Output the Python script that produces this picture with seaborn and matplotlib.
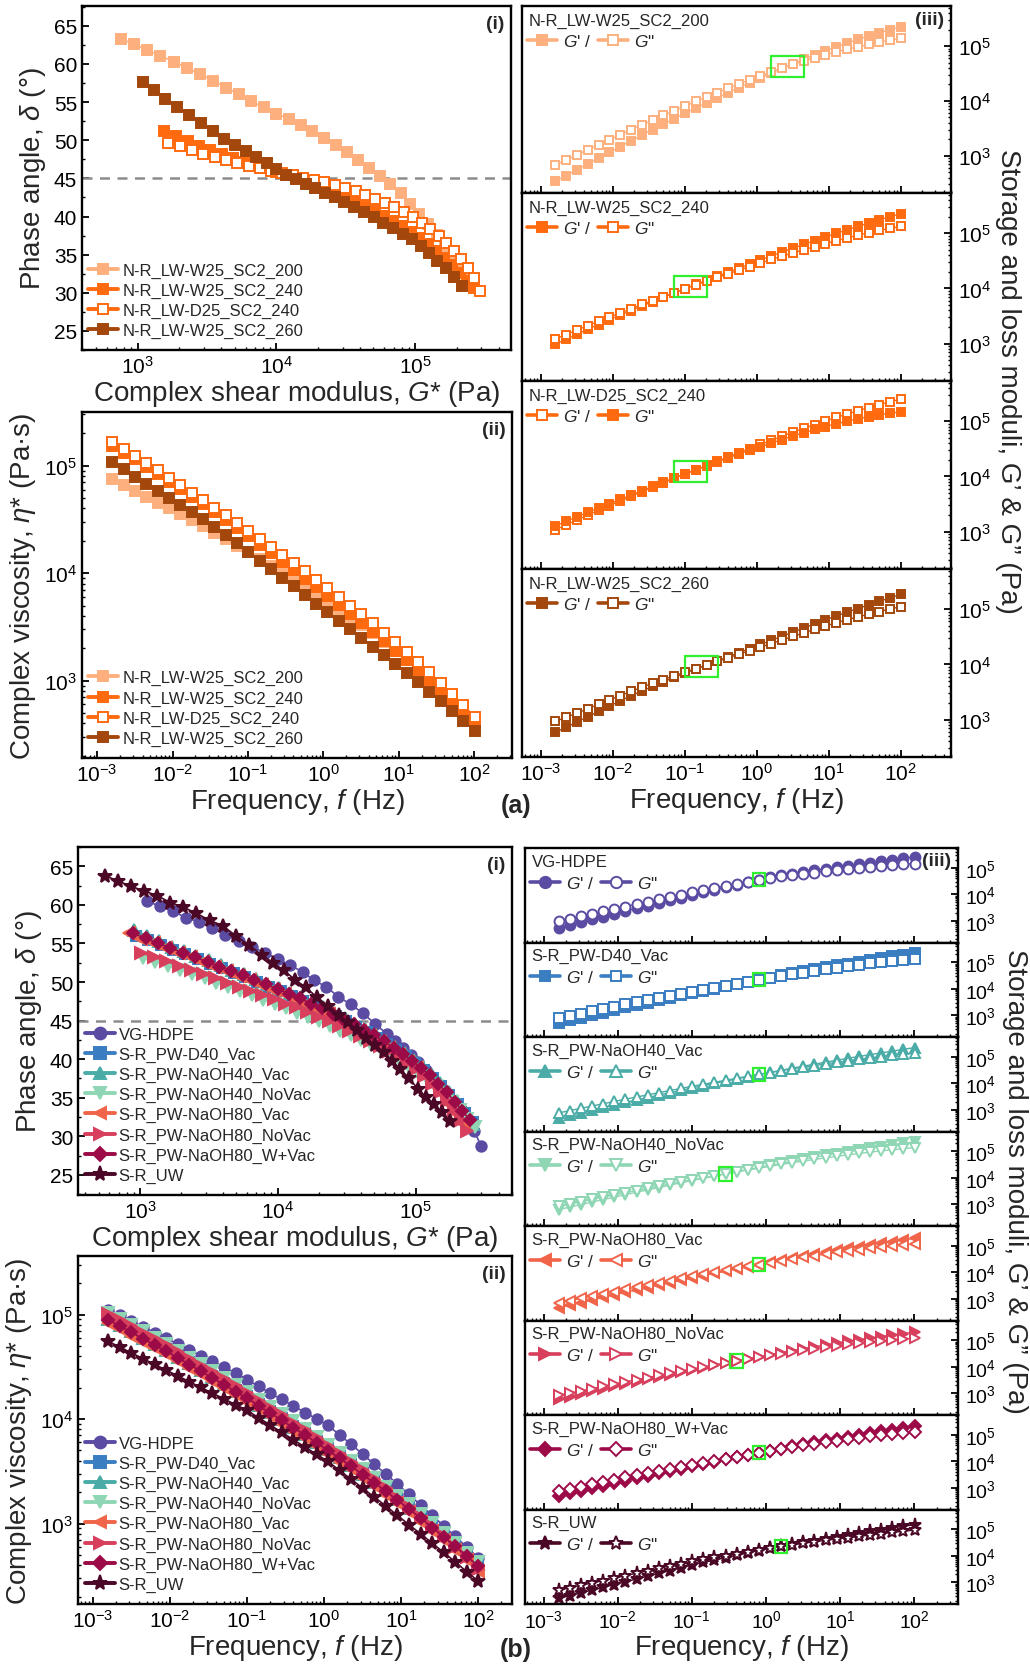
import matplotlib
matplotlib.use("Agg")
import matplotlib.pyplot as plt
import matplotlib.ticker as mticker
from matplotlib.patches import Rectangle
from matplotlib.lines import Line2D
import seaborn as sns
import numpy as np

sns.set_theme(style="ticks")
plt.rcParams["font.family"] = ["Liberation Sans", "DejaVu Sans"]
plt.rcParams["mathtext.fontset"] = "custom"
plt.rcParams["mathtext.rm"] = "Liberation Sans"
plt.rcParams["mathtext.it"] = "Liberation Sans:italic"
plt.rcParams["mathtext.bf"] = "Liberation Sans:bold"

# frequency sweep (Hz)
freq = [0.0016, 0.00226, 0.00319, 0.00451, 0.00637, 0.009, 0.0127, 0.018, 0.0254, 0.0358,
        0.0506, 0.0715, 0.101, 0.143, 0.202, 0.285, 0.403, 0.569, 0.803, 1.13,
        1.6, 2.26, 3.19, 4.51, 6.37, 9.0, 12.7, 18.0, 25.4, 35.8,
        50.6, 71.5, 101.0]

# ---------------- panel (a): log10 G* (Pa) and phase angle (deg) ----------------
logG_w200 = [2.88, 2.975, 3.07, 3.165, 3.26, 3.355, 3.45, 3.545, 3.64, 3.73,
             3.82, 3.91, 4.0, 4.09, 4.175, 4.26, 4.345, 4.43, 4.51, 4.59,
             4.67, 4.745, 4.82, 4.895, 4.965, 5.03, 5.095, 5.155, 5.215, 5.27,
             5.325, 5.375, 5.425]
delta_w200 = [63.3, 62.6, 61.8, 61.1, 60.3, 59.5, 58.7, 57.8, 56.9, 56.0,
              55.1, 54.3, 53.5, 52.8, 52.0, 51.2, 50.3, 49.4, 48.4, 47.4,
              46.4, 45.3, 44.2, 43.1, 41.6, 40.3, 39.0, 37.6, 36.2, 35.0,
              33.9, 32.7, 31.5]
logG_w240 = [3.19, 3.275, 3.36, 3.445, 3.525, 3.605, 3.685, 3.765, 3.845, 3.92,
             3.995, 4.07, 4.145, 4.22, 4.29, 4.36, 4.43, 4.50, 4.57, 4.64,
             4.71, 4.775, 4.84, 4.905, 4.97, 5.03, 5.09, 5.15, 5.21, 5.265,
             5.32, 5.37, 5.42]
delta_w240 = [51.2, 50.6, 49.9, 49.3, 48.7, 48.2, 47.7, 47.2, 46.8, 46.3,
              45.9, 45.4, 45.0, 44.5, 44.0, 43.5, 43.0, 42.5, 41.9, 41.3,
              40.7, 40.1, 39.4, 38.7, 38.0, 37.2, 36.4, 35.5, 34.6, 33.6,
              32.6, 31.6, 30.6]
logG_d240 = [3.22, 3.305, 3.39, 3.475, 3.56, 3.64, 3.72, 3.80, 3.88, 3.96,
             4.04, 4.12, 4.195, 4.27, 4.345, 4.42, 4.495, 4.57, 4.64, 4.71,
             4.78, 4.85, 4.92, 4.985, 5.05, 5.11, 5.17, 5.225, 5.28, 5.33,
             5.38, 5.425, 5.465]
delta_d240 = [49.7, 49.2, 48.7, 48.2, 47.8, 47.4, 47.0, 46.6, 46.3, 46.0,
              45.7, 45.4, 45.1, 44.8, 44.5, 44.1, 43.7, 43.3, 42.8, 42.3,
              41.8, 41.2, 40.6, 39.9, 39.2, 38.4, 37.5, 36.5, 35.5, 34.4,
              33.2, 31.9, 30.3]
logG_w260 = [3.04, 3.12, 3.2, 3.285, 3.37, 3.455, 3.54, 3.625, 3.705, 3.78,
             3.855, 3.93, 4.0, 4.07, 4.14, 4.21, 4.28, 4.35, 4.42, 4.49,
             4.56, 4.63, 4.70, 4.77, 4.84, 4.91, 4.975, 5.04, 5.1, 5.16,
             5.22, 5.28, 5.335]
delta_w260 = [57.7, 56.6, 55.4, 54.3, 53.3, 52.2, 51.2, 50.2, 49.4, 48.6,
              47.8, 47.0, 46.2, 45.5, 44.9, 44.3, 43.7, 43.1, 42.5, 41.9,
              41.2, 40.6, 39.9, 39.2, 38.5, 37.7, 37.0, 36.1, 35.2, 34.2,
              33.2, 32.1, 30.9]

a_names = ["N-R_LW-W25_SC2_200", "N-R_LW-W25_SC2_240", "N-R_LW-D25_SC2_240", "N-R_LW-W25_SC2_260"]
a_colors = ["#FDB07E", "#FF6A0E", "#FF6A0E", "#A3470D"]
a_filled = [True, True, False, True]
a_logG = [logG_w200, logG_w240, logG_d240, logG_w260]
a_delta = [delta_w200, delta_w240, delta_d240, delta_w260]

# ---------------- panel (b) ----------------
logG_vg = [3.05, 3.145, 3.24, 3.335, 3.43, 3.525, 3.62, 3.715, 3.81, 3.905,
           4.0, 4.09, 4.18, 4.265, 4.35, 4.44, 4.53, 4.615, 4.705, 4.79,
           4.85, 4.91, 4.965, 5.02, 5.075, 5.13, 5.18, 5.23, 5.28, 5.33,
           5.38, 5.425, 5.475]
delta_vg = [60.5, 59.8, 59.2, 58.3, 57.8, 57.0, 56.1, 55.3, 54.6, 53.8,
            53.0, 52.2, 51.3, 50.2, 49.4, 48.1, 47.1, 46.0, 44.6, 43.3,
            42.4, 41.5, 40.6, 39.6, 38.6, 37.4, 36.5, 35.4, 34.5, 33.6,
            32.2, 30.7, 28.8]
logG_d40v = [2.97, 3.06, 3.15, 3.24, 3.33, 3.42, 3.51, 3.595, 3.68, 3.765,
             3.85, 3.935, 4.02, 4.1, 4.18, 4.26, 4.34, 4.42, 4.495, 4.57,
             4.645, 4.72, 4.79, 4.86, 4.93, 4.995, 5.06, 5.125, 5.185, 5.245,
             5.305, 5.36, 5.415]
delta_d40v = [56.0, 55.4, 54.8, 54.2, 53.6, 53.0, 52.4, 51.8, 51.2, 50.6,
              50.0, 49.4, 48.8, 48.2, 47.6, 46.9, 46.3, 45.6, 44.9, 44.2,
              43.5, 42.8, 42.0, 41.2, 40.4, 39.5, 38.6, 37.6, 36.5, 35.4,
              34.2, 33.0, 31.8]
logG_n40v = [2.96, 3.05, 3.14, 3.23, 3.32, 3.41, 3.5, 3.585, 3.67, 3.755,
             3.84, 3.925, 4.01, 4.09, 4.17, 4.25, 4.33, 4.41, 4.485, 4.56,
             4.635, 4.71, 4.78, 4.85, 4.92, 4.99, 5.055, 5.12, 5.18, 5.24,
             5.3, 5.36, 5.42]
delta_n40v = [56.8, 56.0, 55.3, 54.6, 54.0, 53.4, 52.8, 52.2, 51.6, 51.0,
              50.4, 49.8, 49.2, 48.6, 48.0, 47.3, 46.7, 46.0, 45.3, 44.6,
              43.9, 43.2, 42.4, 41.6, 40.8, 39.9, 39.0, 38.0, 36.9, 35.8,
              34.6, 33.2, 31.6]
logG_n40nv = [3.02, 3.11, 3.2, 3.29, 3.38, 3.47, 3.555, 3.64, 3.725, 3.81,
              3.895, 3.98, 4.06, 4.14, 4.22, 4.3, 4.38, 4.455, 4.53, 4.605,
              4.68, 4.75, 4.82, 4.89, 4.955, 5.02, 5.085, 5.145, 5.205, 5.265,
              5.32, 5.375, 5.43]
delta_n40nv = [53.1, 52.6, 52.1, 51.6, 51.0, 50.5, 49.9, 49.4, 48.8, 48.3,
               47.7, 47.2, 46.6, 46.0, 45.5, 44.9, 44.3, 43.7, 43.1, 42.5,
               41.9, 41.2, 40.5, 39.8, 39.0, 38.2, 37.4, 36.5, 35.5, 34.5,
               33.4, 32.3, 31.2]
logG_n80v = [2.92, 3.01, 3.1, 3.19, 3.28, 3.37, 3.46, 3.545, 3.63, 3.715,
             3.8, 3.885, 3.97, 4.05, 4.13, 4.21, 4.29, 4.37, 4.445, 4.52,
             4.595, 4.67, 4.74, 4.81, 4.88, 4.945, 5.01, 5.07, 5.13, 5.19,
             5.245, 5.3, 5.35]
delta_n80v = [56.3, 55.6, 55.0, 54.4, 53.8, 53.2, 52.6, 52.0, 51.4, 50.8,
              50.2, 49.6, 49.0, 48.4, 47.8, 47.2, 46.5, 45.8, 45.1, 44.4,
              43.7, 43.0, 42.2, 41.4, 40.6, 39.7, 38.8, 37.8, 36.7, 35.5,
              34.2, 32.9, 31.6]
logG_n80nv = [3.01, 3.1, 3.19, 3.28, 3.37, 3.46, 3.545, 3.63, 3.715, 3.8,
              3.885, 3.97, 4.05, 4.13, 4.21, 4.29, 4.37, 4.445, 4.52, 4.595,
              4.67, 4.74, 4.81, 4.875, 4.94, 5.0, 5.06, 5.12, 5.175, 5.23,
              5.28, 5.33, 5.37]
delta_n80nv = [53.8, 53.2, 52.7, 52.1, 51.6, 51.0, 50.5, 49.9, 49.4, 48.8,
               48.3, 47.8, 47.2, 46.7, 46.1, 45.5, 44.9, 44.3, 43.7, 43.0,
               42.4, 41.7, 41.0, 40.3, 39.5, 38.7, 37.8, 36.8, 35.7, 34.6,
               33.4, 32.1, 30.7]
logG_n80wv = [2.95, 3.04, 3.13, 3.22, 3.31, 3.4, 3.49, 3.575, 3.66, 3.745,
              3.83, 3.915, 4.0, 4.08, 4.16, 4.24, 4.32, 4.4, 4.475, 4.55,
              4.625, 4.7, 4.77, 4.84, 4.91, 4.975, 5.04, 5.105, 5.165, 5.225,
              5.285, 5.34, 5.395]
delta_n80wv = [56.3, 55.7, 55.0, 54.4, 53.8, 53.2, 52.6, 52.0, 51.4, 50.9,
               50.3, 49.7, 49.1, 48.5, 47.9, 47.2, 46.6, 45.9, 45.2, 44.5,
               43.8, 43.1, 42.3, 41.5, 40.7, 39.8, 38.9, 37.9, 36.8, 35.7,
               34.5, 33.3, 32.1]
logG_uw = [2.745, 2.84, 2.935, 3.03, 3.125, 3.22, 3.315, 3.41, 3.505, 3.6,
           3.695, 3.79, 3.885, 3.965, 4.045, 4.125, 4.205, 4.285, 4.365, 4.445,
           4.51, 4.575, 4.64, 4.705, 4.77, 4.83, 4.89, 4.955, 5.015, 5.075,
           5.135, 5.19, 5.25]
delta_uw = [63.8, 63.1, 62.4, 61.8, 61.2, 60.3, 59.7, 58.9, 58.0, 57.3,
            56.0, 54.8, 53.5, 52.5, 51.5, 50.3, 49.3, 48.0, 46.9, 45.7,
            44.8, 43.8, 42.8, 41.9, 40.9, 39.8, 38.7, 37.5, 36.2, 35.1,
            34.2, 33.2, 32.0]

b_names = ["VG-HDPE", "S-R_PW-D40_Vac", "S-R_PW-NaOH40_Vac", "S-R_PW-NaOH40_NoVac",
           "S-R_PW-NaOH80_Vac", "S-R_PW-NaOH80_NoVac", "S-R_PW-NaOH80_W+Vac", "S-R_UW"]
b_colors = ["#5B4BA2", "#3A7DC1", "#4BACA7", "#8ED6B4", "#F0644A", "#D73F5C", "#9C0B48", "#4A0726"]
b_markers = ["o", "s", "^", "v", "<", ">", "D", "*"]
b_ms = [7.5, 7, 8, 8, 8, 8, 6.5, 10]
b_logG = [logG_vg, logG_d40v, logG_n40v, logG_n40nv, logG_n80v, logG_n80nv, logG_n80wv, logG_uw]
b_delta = [delta_vg, delta_d40v, delta_n40v, delta_n40nv, delta_n80v, delta_n80nv, delta_n80wv, delta_uw]

GREEN = "#2EF02E"
W, H = 1030, 1665
fig = plt.figure(figsize=(W / 100, H / 100), dpi=100)
f = np.array(freq)


def px_axes(x0, y0, x1, y1):
    return fig.add_axes([x0 / W, 1 - y1 / H, (x1 - x0) / W, (y1 - y0) / H])


def style(ax, labelsize=15):
    for s in ax.spines.values():
        s.set_visible(True)
        s.set_linewidth(1.7)
        s.set_color("black")
    ax.grid(False)
    ax.tick_params(which="both", direction="in", colors="black", labelsize=labelsize)
    ax.tick_params(which="major", length=5, width=1.3)
    ax.tick_params(which="minor", length=2.5, width=1.0)


def log_axis(axis, ticks=None):
    if ticks is None:
        axis.set_major_locator(mticker.LogLocator(base=10, numticks=30))
    else:
        axis.set_major_locator(mticker.FixedLocator(ticks))
    axis.set_major_formatter(mticker.LogFormatterSciNotation())
    axis.set_minor_locator(mticker.LogLocator(base=10, subs=np.arange(2, 10), numticks=100))
    axis.set_minor_formatter(mticker.NullFormatter())


def series(ax, x, y, color, marker, filled, ms, lw=1.2, z=2):
    sns.lineplot(x=np.asarray(x), y=np.asarray(y), ax=ax, color=color, linewidth=lw,
                 marker=marker, markersize=ms, markeredgewidth=1.4,
                 markerfacecolor=color if filled else "white", markeredgecolor=color,
                 legend=False, sort=False, errorbar=None, zorder=z)


def handle(color, marker, filled, ms, lw=2.8):
    return Line2D([], [], color=color, marker=marker, markersize=ms, linewidth=lw,
                  markerfacecolor=color if filled else "white", markeredgecolor=color,
                  markeredgewidth=1.4)


def moduli(logG, delta):
    gs = 10 ** np.array(logG)
    d = np.radians(np.array(delta))
    return gs, gs / (2 * np.pi * f), gs * np.cos(d), gs * np.sin(d)


def phase_panel(ax, logGs, deltas, colors, markers, filled, sizes, names, xlim):
    ax.set_xscale("log")
    for lg, de, c, m, fl, ms in zip(logGs, deltas, colors, markers, filled, sizes):
        series(ax, 10 ** np.array(lg), de, c, m, fl, ms)
    ax.axhline(45, color="#8C8C8C", linestyle=(0, (4, 3)), linewidth=1.8, zorder=1)
    ax.set_xlim(*xlim)
    ax.set_ylim(22.5, 67.6)
    log_axis(ax.xaxis, [1e3, 1e4, 1e5])
    ax.yaxis.set_major_locator(mticker.MultipleLocator(5))
    ax.yaxis.set_minor_locator(mticker.MultipleLocator(2.5))
    ax.set_xlabel("Complex shear modulus, $G$* (Pa)", fontsize=20, labelpad=1)
    ax.set_ylabel("Phase angle, $\\delta$ (°)", fontsize=20, labelpad=4)
    ax.text(0.985, 0.975, "(i)", transform=ax.transAxes, ha="right", va="top",
            fontweight="bold", fontsize=14)
    hs = [handle(c, m, fl, ms + 1) for c, m, fl, ms in zip(colors, markers, filled, sizes)]
    ax.legend(hs, names, loc="lower left", bbox_to_anchor=(0.015, 0.035), frameon=False,
              fontsize=12, handlelength=1.8, handletextpad=0.25, labelspacing=0.3,
              borderpad=0, borderaxespad=0)
    style(ax)


def visc_panel(ax, logGs, deltas, colors, markers, filled, sizes, names, xlim, ylim):
    ax.set_xscale("log")
    ax.set_yscale("log")
    for lg, de, c, m, fl, ms in zip(logGs, deltas, colors, markers, filled, sizes):
        gs, eta, gp, gpp = moduli(lg, de)
        series(ax, f, eta, c, m, fl, ms)
    ax.set_xlim(*xlim)
    ax.set_ylim(*ylim)
    log_axis(ax.xaxis)
    log_axis(ax.yaxis, [1e3, 1e4, 1e5])
    ax.set_xlabel("Frequency, $f$ (Hz)", fontsize=20, labelpad=1)
    ax.set_ylabel("Complex viscosity, $\\eta$* (Pa·s)", fontsize=20, labelpad=4)
    ax.text(0.985, 0.975, "(ii)", transform=ax.transAxes, ha="right", va="top",
            fontweight="bold", fontsize=14)
    hs = [handle(c, m, fl, ms + 1) for c, m, fl, ms in zip(colors, markers, filled, sizes)]
    ax.legend(hs, names, loc="lower left", bbox_to_anchor=(0.015, 0.035), frameon=False,
              fontsize=12, handlelength=1.8, handletextpad=0.25, labelspacing=0.3,
              borderpad=0, borderaxespad=0)
    style(ax)


def moduli_panel(ax, lg, de, color, marker, gp_filled, ms, name, xlim, ylim,
                 name_y, leg_y, labelsize, big_box):
    ax.set_xscale("log")
    ax.set_yscale("log")
    gs, eta, gp, gpp = moduli(lg, de)
    series(ax, f, gp, color, marker, gp_filled, ms, lw=1.0)
    series(ax, f, gpp, color, marker, not gp_filled, ms, lw=1.0)
    # crossover box (G' = G'')
    de = np.array(de)
    if big_box:
        ic = int(np.argmax(de < 45))
        xc = np.sqrt(f[ic - 1] * f[ic])
        yc = np.sqrt(gpp[ic - 1] * gpp[ic])
        dx, dy = 10 ** 0.23, 10 ** 0.19
    else:
        ic = int(np.argmin(np.abs(de - 45)))
        xc, yc = f[ic], gpp[ic]
        dx, dy = 10 ** 0.085, 10 ** 0.25
    ax.add_patch(Rectangle((xc / dx, yc / dy), xc * dx - xc / dx, yc * dy - yc / dy,
                           fill=False, edgecolor=GREEN, linewidth=1.6, zorder=5))
    ax.set_xlim(*xlim)
    ax.set_ylim(*ylim)
    log_axis(ax.xaxis)
    log_axis(ax.yaxis, [1e3, 1e4, 1e5])
    ax.yaxis.tick_right()
    ax.tick_params(axis="y", which="both", left=False, right=True)
    ax.text(0.015, name_y, name, transform=ax.transAxes, ha="left", va="center", fontsize=12)
    hs = [handle(color, marker, gp_filled, ms + 1, lw=2.6),
          handle(color, marker, not gp_filled, ms + 1, lw=2.6)]
    ax.legend(hs, ["$G$' /", '$G$"'], ncol=2, loc="center left", bbox_to_anchor=(0.012, leg_y),
              frameon=False, fontsize=12.5, handlelength=1.7, handletextpad=0.35,
              columnspacing=0.4, borderpad=0, borderaxespad=0)
    style(ax, labelsize)
    ax.tick_params(axis="y", pad=5)


# ======================= (a) =======================
a_markers = ["s"] * 4
a_sizes = [6.5] * 4
ax = px_axes(82, 7, 511, 351)
phase_panel(ax, a_logG, a_delta, a_colors, a_markers, a_filled, a_sizes, a_names,
            (10 ** 2.6, 10 ** 5.69))
ax.set_ylim(22.5, 67.6)

ax = px_axes(82, 413, 512, 759)
visc_panel(ax, a_logG, a_delta, a_colors, a_markers, a_filled, a_sizes, a_names,
           (10 ** -3.2, 10 ** 2.5), (10 ** 2.28, 10 ** 5.5))

a_bounds = [7, 194, 382, 570, 758]
a_gp_filled = [True, True, False, True]
for i in range(4):
    ax = px_axes(522, a_bounds[i], 951, a_bounds[i + 1])
    moduli_panel(ax, a_logG[i], a_delta[i], a_colors[i], "s", a_gp_filled[i], 6.2,
                 a_names[i], (10 ** -3.26, 10 ** 2.7), (10 ** 2.32, 10 ** 5.73),
                 0.925, 0.815, 15, True)
    if i == 0:
        ax.text(0.985, 0.975, "(iii)", transform=ax.transAxes, ha="right", va="top",
                fontweight="bold", fontsize=14)
    if i < 3:
        ax.tick_params(axis="x", labelbottom=False)
    else:
        ax.set_xlabel("Frequency, $f$ (Hz)", fontsize=20, labelpad=1)

fig.text(1008 / W, 1 - 381 / H, "Storage and loss moduli, G’ & G” (Pa)", rotation=270,
         ha="center", va="center", fontsize=20)
fig.text(516 / W, 1 - 806 / H, "(a)", ha="center", va="center", fontsize=18, fontweight="bold")

# ======================= (b) =======================
b_filled = [True] * 8
ax = px_axes(78, 848, 512, 1196)
phase_panel(ax, b_logG, b_delta, b_colors, b_markers, b_filled, b_ms, b_names,
            (10 ** 2.55, 10 ** 5.7))
ax.set_ylim(22.4, 67.5)

ax = px_axes(78, 1257, 512, 1605)
visc_panel(ax, b_logG, b_delta, b_colors, b_markers, b_filled, b_ms, b_names,
           (10 ** -3.19, 10 ** 2.44), (10 ** 2.23, 10 ** 5.56))

b_top, b_step = 849, 94.5
for i in range(8):
    y0 = b_top + i * b_step
    ax = px_axes(525, y0, 958, y0 + b_step)
    moduli_panel(ax, b_logG[i], b_delta[i], b_colors[i], b_markers[i], True, b_ms[i] * 0.95,
                 b_names[i], (10 ** -3.25, 10 ** 2.59), (10 ** 2.18, 10 ** 5.75),
                 0.86, 0.63, 14, False)
    if i == 0:
        ax.text(0.985, 0.96, "(iii)", transform=ax.transAxes, ha="right", va="top",
                fontweight="bold", fontsize=14)
    if i < 7:
        ax.tick_params(axis="x", labelbottom=False)
    else:
        ax.set_xlabel("Frequency, $f$ (Hz)", fontsize=20, labelpad=1)

fig.text(1015 / W, 1 - 1181 / H, "Storage and loss moduli, G’ & G” (Pa)", rotation=270,
         ha="center", va="center", fontsize=20)
fig.text(516 / W, 1 - 1650 / H, "(b)", ha="center", va="center", fontsize=18, fontweight="bold")

fig.savefig("out.png", dpi=100, facecolor="white")
